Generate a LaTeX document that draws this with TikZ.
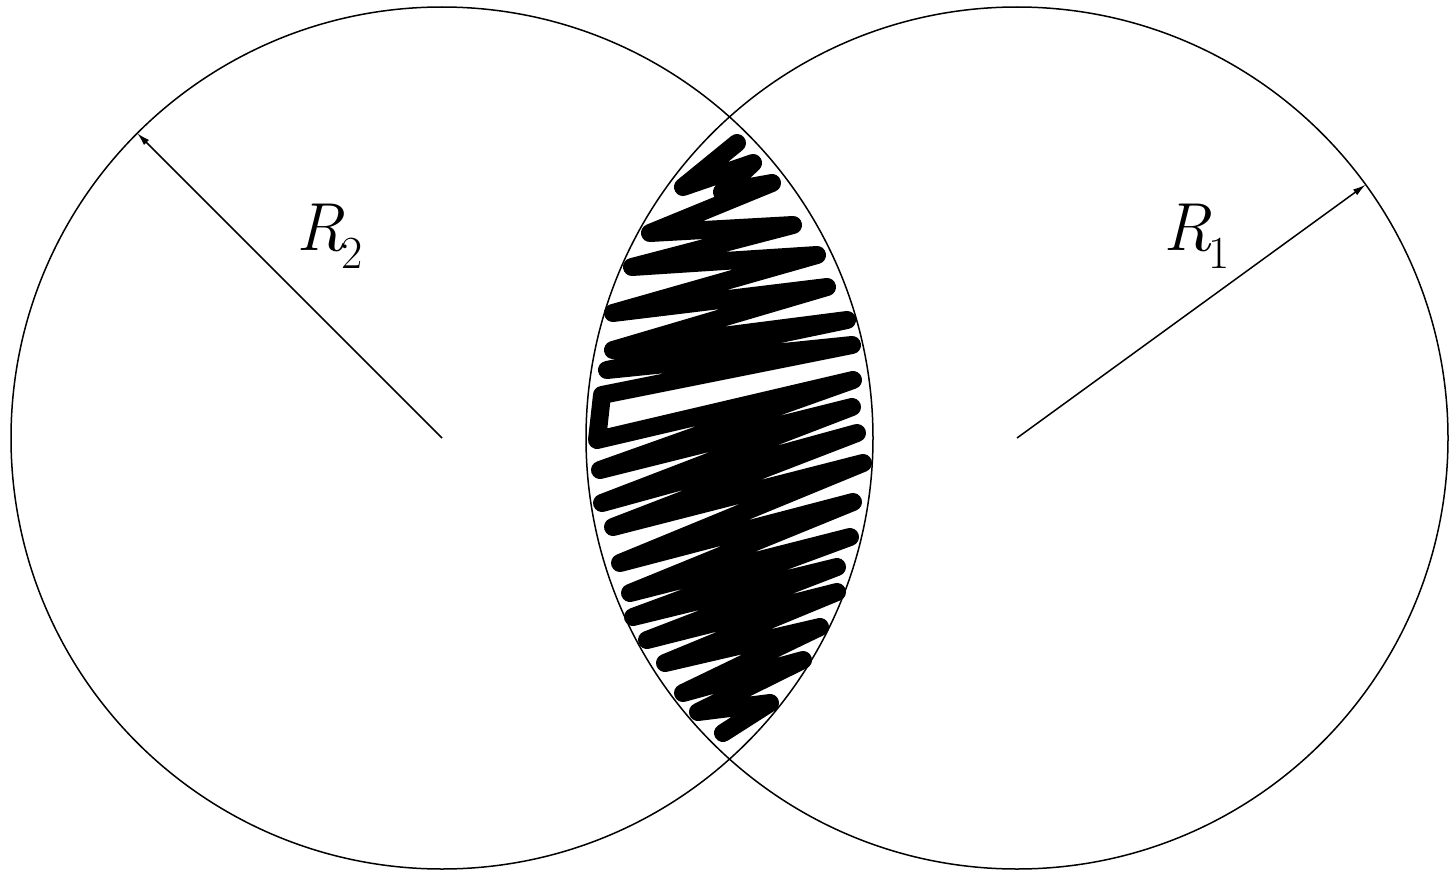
\documentclass[tikz,border=0pt]{standalone}
\usetikzlibrary{arrows.meta}
\tikzset{
  ring/.style={draw, circle, line width=1.5pt, minimum size=862pt, inner sep=0pt, outer sep=0pt},
  radius/.style={line width=1.5pt, -{Latex[length=13pt,width=7pt]}},
  scribble/.style={line width=18pt, line cap=round, line join=round},
  lbl/.style={inner sep=0pt, anchor=base west}
}
\newcommand{\Rlab}[1]{{\fontsize{68}{70}\selectfont\textit{R}\kern-3pt\raisebox{-0.27em}{\fontsize{46}{48}\selectfont #1}}}
\begin{document}
\begin{tikzpicture}[x=1pt,y=-1pt]
\useasboundingbox (0,0) rectangle (1451,875);
\node[ring] (c2) at (442,438) {};
\node[ring] (c1) at (1017,438) {};
\coordinate (o2) at (442,438);
\coordinate (o1) at (1017,438);
\draw[radius] (o2) -- (c2.135);
\draw[radius] (o1) -- (c1.36);
\node[lbl] (r2) at (296,250) {\Rlab{2}};
\node[lbl] (r1) at (1163,250) {\Rlab{1}};
\draw[scribble] (737,143) -- (683,187) -- (753,163) -- (722,192) -- (772,183)
  -- (650,233) -- (793,225) -- (632,267) -- (817,255) -- (613,313)
  -- (827,287) -- (613,350) -- (847,320) -- (607,370) -- (852,345)
  -- (602,395) -- (597,440) -- (853,380) -- (600,470) -- (852,407)
  -- (602,503) -- (857,433) -- (613,527) -- (863,463) -- (620,563)
  -- (853,502) -- (630,593) -- (850,537) -- (633,617) -- (837,567)
  -- (647,640) -- (837,592) -- (665,663) -- (820,627) -- (683,693)
  -- (803,660) -- (698,712) -- (770,703) -- (723,733);
\end{tikzpicture}
\end{document}
